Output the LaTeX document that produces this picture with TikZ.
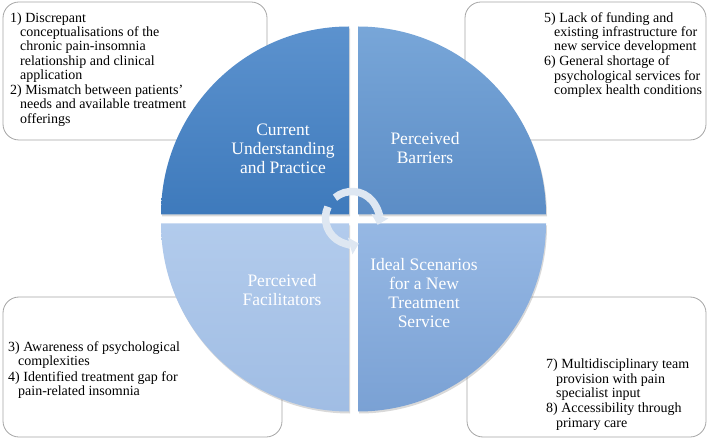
\documentclass[tikz,border=0pt]{standalone}
\usepackage{fontspec}
\setmainfont{Liberation Serif}
\usetikzlibrary{shadows,arrows.meta}
\definecolor{ulA}{RGB}{92,146,206}
\definecolor{ulB}{RGB}{62,122,188}
\definecolor{urA}{RGB}{120,166,216}
\definecolor{urB}{RGB}{92,141,198}
\definecolor{llA}{RGB}{178,203,236}
\definecolor{llB}{RGB}{160,189,228}
\definecolor{lrA}{RGB}{150,184,228}
\definecolor{lrB}{RGB}{122,161,212}
\definecolor{boxline}{RGB}{165,165,165}
\definecolor{arrowfill}{RGB}{222,231,242}
\begin{document}
\begin{tikzpicture}[x=1pt,y=1pt,
 infobox/.style={draw=boxline, line width=0.8pt, fill=white, rounded corners=16pt},
 quad/.style={drop shadow={shadow xshift=1pt,shadow yshift=-2pt,opacity=0.3}},
 qlabel/.style={text=white, align=center, font=\fontsize{17.5}{18.8}\selectfont, inner sep=0pt},
 itemtext/.style={align=left, anchor=north west, font=\fontsize{14}{14.2}\selectfont, inner sep=0pt, text=black},
 cyc/.style={draw=arrowfill, line width=7.5pt}
]
\useasboundingbox (0,0) rectangle (708,439);
% info boxes (behind the circle)
\draw[infobox] (3,299) rectangle (267,437);
\draw[infobox] (465,299) rectangle (706,437);
\draw[infobox] (3,2) rectangle (282,142);
\draw[infobox] (467,2) rectangle (706,142);
% quadrants
\path[quad, top color=ulA, bottom color=ulB] (349,224.5) -- ++(180:188) arc[start angle=180,end angle=90,radius=188] -- cycle;
\path[quad, top color=urA, bottom color=urB] (358,224.5) -- ++(90:188) arc[start angle=90,end angle=0,radius=188] -- cycle;
\path[quad, top color=llA, bottom color=llB] (349,215.5) -- ++(270:188) arc[start angle=270,end angle=180,radius=188] -- cycle;
\path[quad, top color=lrA, bottom color=lrB] (358,215.5) -- ++(0:188) arc[start angle=360,end angle=270,radius=188] -- cycle;
% quadrant labels
\node[qlabel] (q1) at (283,290) {Current\\Understanding\\and Practice};
\node[qlabel] (q2) at (425,291) {Perceived\\Barriers};
\node[qlabel] (q3) at (282,149) {Perceived\\Facilitators};
\node[qlabel] (q4) at (424,146) {Ideal Scenarios\\for a New\\Treatment\\Service};
% central cycle arrows
\coordinate (hub) at (352,221);
\draw[cyc, -{Triangle[width=17pt,length=9pt]}] (hub) ++(130:26.5) arc[start angle=130,end angle=-15,radius=26.5];
\draw[cyc, -{Triangle[width=17pt,length=9pt]}] (hub) ++(155:26.5) arc[start angle=155,end angle=285,radius=26.5];
% item texts
\node[itemtext] (t1) at (10,426.5) {1) Discrepant\\\hspace*{10pt}conceptualisations of the\\\hspace*{10pt}chronic pain-insomnia\\\hspace*{10pt}relationship and clinical\\\hspace*{10pt}application\\[1.3pt]2) Mismatch between patients’\\\hspace*{10pt}needs and available treatment\\\hspace*{10pt}offerings};
\node[itemtext] (t2) at (544,427) {5) Lack of funding and\\\hspace*{10pt}existing infrastructure for\\\hspace*{10pt}new service development\\[1.3pt]6) General shortage of\\\hspace*{10pt}psychological services for\\\hspace*{10pt}complex health conditions};
\node[itemtext] (t3) at (8,97.5) {3) Awareness of psychological\\\hspace*{10pt}complexities\\[1.3pt]4) Identified treatment gap for\\\hspace*{10pt}pain-related insomnia};
\node[itemtext] (t4) at (546,80) {7) Multidisciplinary team\\\hspace*{10pt}provision with pain\\\hspace*{10pt}specialist input\\[1.3pt]8) Accessibility through\\\hspace*{10pt}primary care};
\end{tikzpicture}
\end{document}
